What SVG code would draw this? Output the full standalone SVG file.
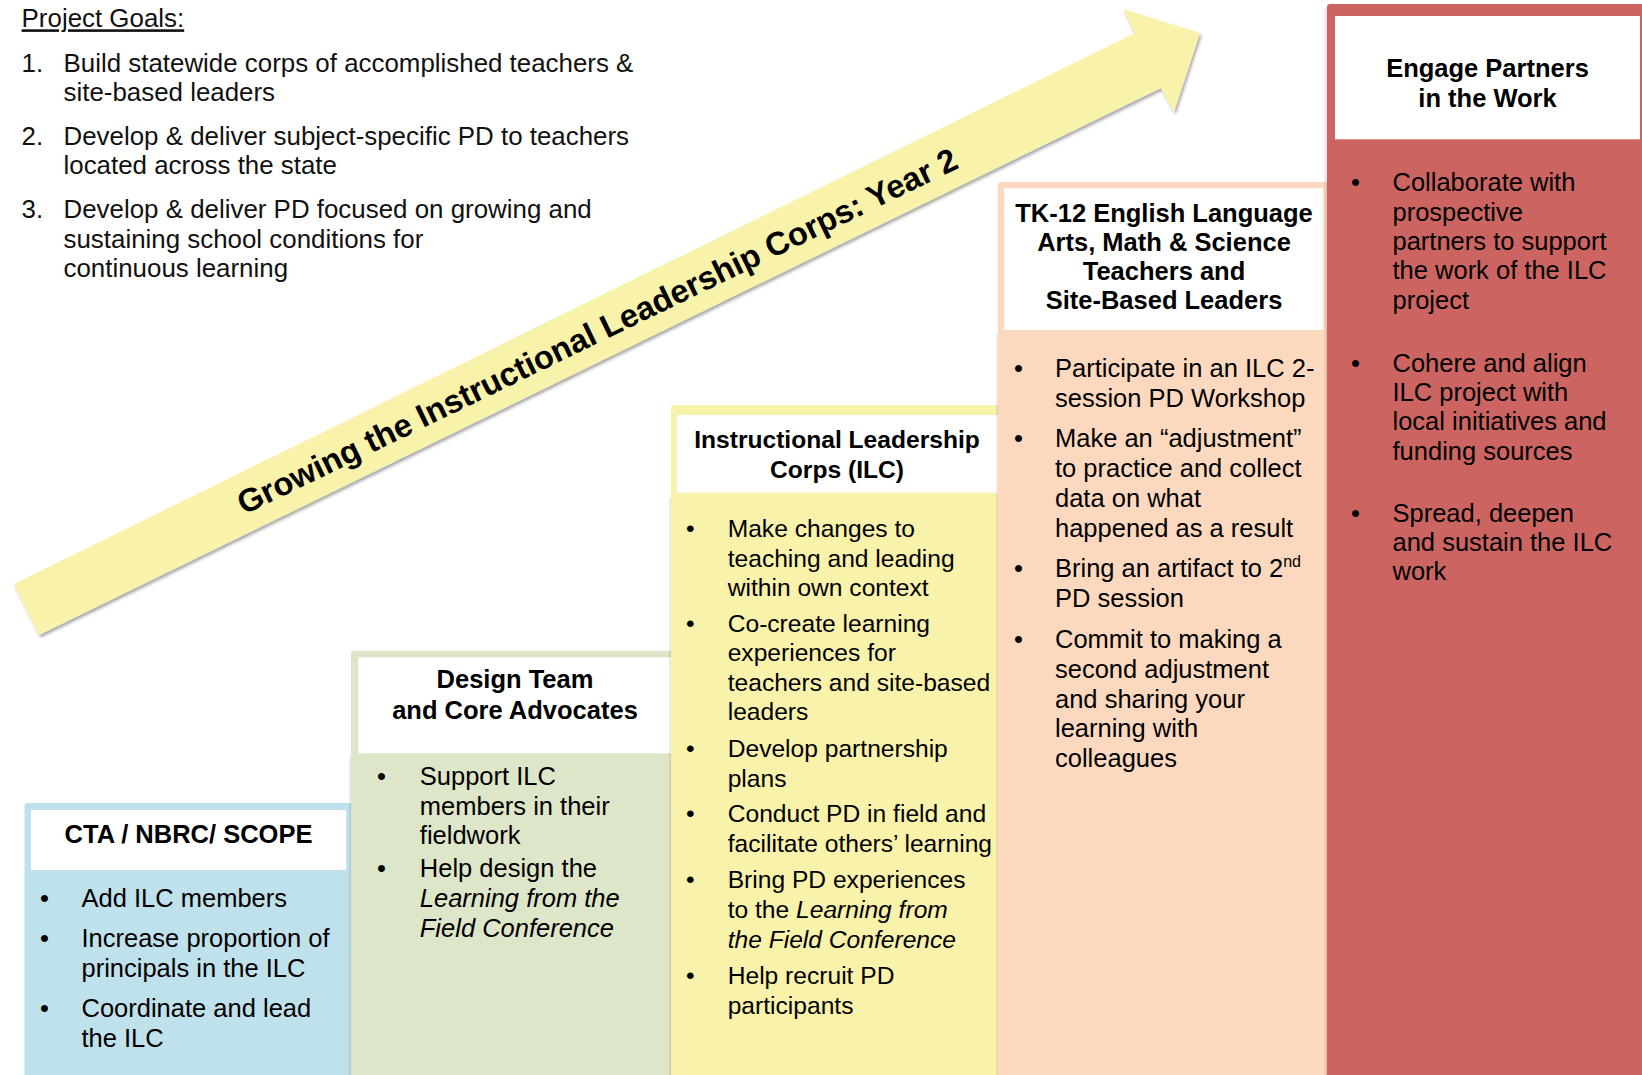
<svg xmlns="http://www.w3.org/2000/svg" width="1642" height="1075" viewBox="0 0 1642 1075">
<defs>
<style>
text{font-family:"Liberation Sans",Arial,Helvetica,sans-serif;fill:#000;}
.g{font-size:25.9px;fill:#111;}
.t{font-size:25.5px;}
.ti{font-size:24.6px;}
.h{font-size:25.5px;font-weight:bold;text-anchor:middle;}
.hi{font-size:24.6px;font-weight:bold;text-anchor:middle;}
.it{font-style:italic;}
.arrowtxt{font-size:32.6px;font-weight:bold;}
.white{fill:#fff;}
.blue{fill:#BFE1EB;}
.green{fill:#DEE6C9;}
.yellow{fill:#F9F2AA;}
.peach{fill:#FCD9BE;}
.red{fill:#CC6561;}
.sh{fill:url(#shadeL);}
</style>
<linearGradient id="shadeL" x1="0" y1="0" x2="1" y2="0">
<stop offset="0" stop-color="#000" stop-opacity="0"/>
<stop offset="1" stop-color="#000" stop-opacity="0.16"/>
</linearGradient>
<filter id="drop" x="-5%" y="-5%" width="110%" height="115%">
<feDropShadow dx="1.5" dy="2.5" stdDeviation="1.6" flood-color="#000" flood-opacity="0.35"/>
</filter>
</defs>

<rect width="1642" height="1075" fill="#fff"/>

<g id="goals">
<text class="g" x="21.6" y="27.3" text-decoration="underline">Project Goals:</text>
<text class="g" x="21.6" y="71.7">1.</text>
<text class="g"><tspan x="63.5" y="71.7">Build statewide corps of accomplished teachers &amp;</tspan><tspan x="63.5" y="101">site-based leaders</tspan></text>
<text class="g" x="21.6" y="145">2.</text>
<text class="g"><tspan x="63.5" y="145">Develop &amp; deliver subject-specific PD to teachers</tspan><tspan x="63.5" y="174.3">located across the state</tspan></text>
<text class="g" x="21.6" y="218.3">3.</text>
<text class="g"><tspan x="63.5" y="218.3">Develop &amp; deliver PD focused on growing and</tspan><tspan x="63.5" y="247.7">sustaining school conditions for</tspan><tspan x="63.5" y="276.7">continuous learning</tspan></text>
</g>

<g id="connectors">
<g id="growth-arrow">
<polygon class="yellow" filter="url(#drop)" points="14,584 1135,33 1123,9 1200,33 1174,112 1161,88 39,635"/>
<text class="arrowtxt" transform="translate(244,515) rotate(-25.9)" x="0" y="0">Growing the Instructional Leadership Corps: Year 2</text>
</g>
</g>

<g id="col-cta">
<path class="blue" d="M24.5,1075 V806 Q24.5,803 27.5,803 H352 V1075 Z"/>
<rect class="white" x="31" y="810" width="315" height="60"/>
<text class="h" x="188.5" y="843">CTA / NBRC/ SCOPE</text>
<text class="t" x="40" y="906.7">•</text>
<text class="t" x="81.5" y="906.7">Add ILC members</text>
<text class="t" x="40" y="946.7">•</text>
<text class="t"><tspan x="81.5" y="946.7">Increase proportion of</tspan><tspan x="81.5" y="976.7">principals in the ILC</tspan></text>
<text class="t" x="40" y="1016.7">•</text>
<text class="t"><tspan x="81.5" y="1016.7">Coordinate and lead</tspan><tspan x="81.5" y="1046.7">the ILC</tspan></text>
</g>

<g id="col-design">
<rect class="sh" x="348" y="757" width="4" height="318"/>
<path class="green" d="M351,1075 V654 Q351,650.7 354,650.7 H672 V1075 Z"/>
<rect class="white" x="358.3" y="657.3" width="314" height="96"/>
<text class="h"><tspan x="515" y="688.3">Design Team</tspan><tspan x="515" y="719">and Core Advocates</tspan></text>
<text class="t" x="377" y="785">•</text>
<text class="t"><tspan x="419.8" y="785">Support ILC</tspan><tspan x="419.8" y="815">members in their</tspan><tspan x="419.8" y="844">fieldwork</tspan></text>
<text class="t" x="377" y="877.3">•</text>
<text class="t"><tspan x="419.8" y="877.3">Help design the</tspan><tspan class="it" x="419.8" y="906.7">Learning from the</tspan><tspan class="it" x="419.8" y="936.7">Field Conference</tspan></text>
</g>

<g id="col-ilc">
<rect class="sh" x="668" y="498" width="4" height="577"/>
<path class="yellow" d="M671,1075 V408 Q671,405 674,405 H998 V1075 Z"/>
<rect class="white" x="677.3" y="415" width="322" height="77.7"/>
<text class="hi"><tspan x="837" y="448">Instructional Leadership</tspan><tspan x="837" y="478">Corps (ILC)</tspan></text>
<text class="ti" x="686" y="537.3">•</text>
<text class="ti"><tspan x="727.7" y="537.3">Make changes to</tspan><tspan x="727.7" y="566.7">teaching and leading</tspan><tspan x="727.7" y="596">within own context</tspan></text>
<text class="ti" x="686" y="631.7">•</text>
<text class="ti"><tspan x="727.7" y="631.7">Co-create learning</tspan><tspan x="727.7" y="661">experiences for</tspan><tspan x="727.7" y="690.7">teachers and site-based</tspan><tspan x="727.7" y="720">leaders</tspan></text>
<text class="ti" x="686" y="756.7">•</text>
<text class="ti"><tspan x="727.7" y="756.7">Develop partnership</tspan><tspan x="727.7" y="786.7">plans</tspan></text>
<text class="ti" x="686" y="822.3">•</text>
<text class="ti"><tspan x="727.7" y="822.3">Conduct PD in field and</tspan><tspan x="727.7" y="852.3">facilitate others’ learning</tspan></text>
<text class="ti" x="686" y="888.3">•</text>
<text class="ti"><tspan x="727.7" y="888.3">Bring PD experiences</tspan><tspan x="727.7" y="918.3">to the <tspan class="it">Learning from</tspan></tspan><tspan class="it" x="727.7" y="948.3">the Field Conference</tspan></text>
<text class="ti" x="686" y="984">•</text>
<text class="ti"><tspan x="727.7" y="984">Help recruit PD</tspan><tspan x="727.7" y="1014">participants</tspan></text>
</g>

<g id="col-tk12">
<rect class="sh" x="995" y="334" width="4" height="741"/>
<path class="peach" d="M998,1075 V185 Q998,182 1001,182 H1327 V1075 Z"/>
<rect class="white" x="1004" y="188.3" width="319.3" height="141.7"/>
<text class="h"><tspan x="1164" y="221.7">TK-12 English Language</tspan><tspan x="1164" y="250.7">Arts, Math &amp; Science</tspan><tspan x="1164" y="280">Teachers and</tspan><tspan x="1164" y="309.3">Site-Based Leaders</tspan></text>
<text class="t" x="1014" y="376.7">•</text>
<text class="t"><tspan x="1055" y="376.7">Participate in an ILC 2-</tspan><tspan x="1055" y="406.7">session PD Workshop</tspan></text>
<text class="t" x="1014" y="447.3">•</text>
<text class="t"><tspan x="1055" y="447.3">Make an “adjustment”</tspan><tspan x="1055" y="477.3">to practice and collect</tspan><tspan x="1055" y="506.7">data on what</tspan><tspan x="1055" y="536.7">happened as a result</tspan></text>
<text class="t" x="1014" y="577.3">•</text>
<text class="t"><tspan x="1055" y="577.3">Bring an artifact to 2</tspan><tspan font-size="16" dy="-10">nd</tspan><tspan x="1055" y="607.3">PD session</tspan></text>
<text class="t" x="1014" y="648.3">•</text>
<text class="t"><tspan x="1055" y="648.3">Commit to making a</tspan><tspan x="1055" y="678.3">second adjustment</tspan><tspan x="1055" y="708.3">and sharing your</tspan><tspan x="1055" y="737.3">learning with</tspan><tspan x="1055" y="766.7">colleagues</tspan></text>
</g>

<g id="col-engage">
<rect class="sh" x="1323.5" y="8" width="4" height="1067"/>
<path class="red" d="M1327,1075 V7 Q1327,4 1330,4 H1642 V1075 Z"/>
<rect class="white" x="1335" y="16" width="305" height="123.3"/>
<text class="h"><tspan x="1487.5" y="77.3">Engage Partners</tspan><tspan x="1487.5" y="107.3">in the Work</tspan></text>
<text class="t" x="1351" y="191">•</text>
<text class="t"><tspan x="1392.5" y="191">Collaborate with</tspan><tspan x="1392.5" y="221">prospective</tspan><tspan x="1392.5" y="250">partners to support</tspan><tspan x="1392.5" y="279">the work of the ILC</tspan><tspan x="1392.5" y="309">project</tspan></text>
<text class="t" x="1351" y="371.7">•</text>
<text class="t"><tspan x="1392.5" y="371.7">Cohere and align</tspan><tspan x="1392.5" y="401">ILC project with</tspan><tspan x="1392.5" y="430">local initiatives and</tspan><tspan x="1392.5" y="460">funding sources</tspan></text>
<text class="t" x="1351" y="521.7">•</text>
<text class="t"><tspan x="1392.5" y="521.7">Spread, deepen</tspan><tspan x="1392.5" y="551">and sustain the ILC</tspan><tspan x="1392.5" y="580">work</tspan></text>
</g>
</svg>
